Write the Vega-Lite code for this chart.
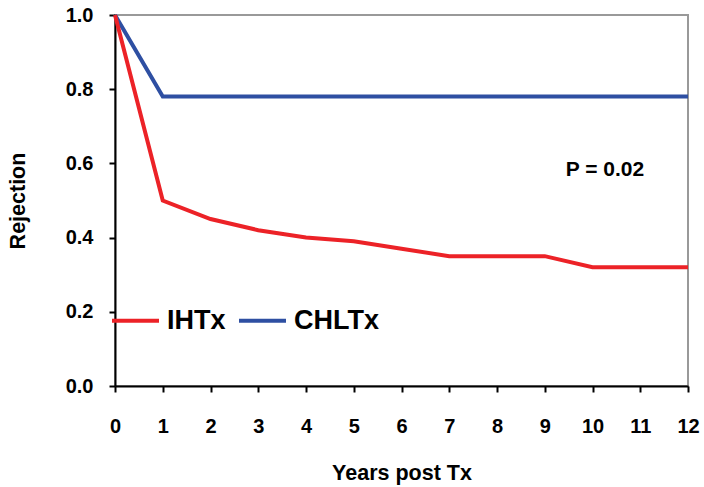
{
  "$schema": "https://vega.github.io/schema/vega-lite/v6.json",
  "width": 573,
  "height": 371,
  "autosize": "none",
  "padding": {"left": 115, "top": 15, "right": 16, "bottom": 101},
  "background": "white",
  "config": {
    "font": "Liberation Sans",
    "view": {"stroke": "#999999", "strokeWidth": 2},
    "axis": {"grid": false, "domainColor": "black", "domainWidth": 2, "tickColor": "black", "tickWidth": 2, "labelFont": "Liberation Sans", "labelFontWeight": "bold", "labelColor": "black", "titleFont": "Liberation Sans", "titleFontWeight": "bold", "titleColor": "black"}
  },
  "layer": [
    {
      "data": {
        "values": [
          {"year": 0, "series": "CHLTx", "rate": 1.0},
          {"year": 1, "series": "CHLTx", "rate": 0.78},
          {"year": 2, "series": "CHLTx", "rate": 0.78},
          {"year": 3, "series": "CHLTx", "rate": 0.78},
          {"year": 4, "series": "CHLTx", "rate": 0.78},
          {"year": 5, "series": "CHLTx", "rate": 0.78},
          {"year": 6, "series": "CHLTx", "rate": 0.78},
          {"year": 7, "series": "CHLTx", "rate": 0.78},
          {"year": 8, "series": "CHLTx", "rate": 0.78},
          {"year": 9, "series": "CHLTx", "rate": 0.78},
          {"year": 10, "series": "CHLTx", "rate": 0.78},
          {"year": 11, "series": "CHLTx", "rate": 0.78},
          {"year": 12, "series": "CHLTx", "rate": 0.78},
          {"year": 0, "series": "IHTx", "rate": 1.0},
          {"year": 1, "series": "IHTx", "rate": 0.50},
          {"year": 2, "series": "IHTx", "rate": 0.45},
          {"year": 3, "series": "IHTx", "rate": 0.42},
          {"year": 4, "series": "IHTx", "rate": 0.40},
          {"year": 5, "series": "IHTx", "rate": 0.39},
          {"year": 6, "series": "IHTx", "rate": 0.37},
          {"year": 7, "series": "IHTx", "rate": 0.35},
          {"year": 8, "series": "IHTx", "rate": 0.35},
          {"year": 9, "series": "IHTx", "rate": 0.35},
          {"year": 10, "series": "IHTx", "rate": 0.32},
          {"year": 11, "series": "IHTx", "rate": 0.32},
          {"year": 12, "series": "IHTx", "rate": 0.32}
        ]
      },
      "mark": {"type": "line", "strokeWidth": 4},
      "encoding": {
        "x": {
          "field": "year", "type": "quantitative",
          "scale": {"domain": [0, 12], "nice": false},
          "axis": {"values": [0,1,2,3,4,5,6,7,8,9,10,11,12], "title": "Years post Tx", "labelFontSize": 20, "titleFontSize": 21.5, "tickSize": 6, "labelPadding": 24, "titlePadding": 26, "labelFlush": false}
        },
        "y": {
          "field": "rate", "type": "quantitative",
          "scale": {"domain": [0, 1], "nice": false},
          "axis": {"values": [0, 0.2, 0.4, 0.6, 0.8, 1.0], "format": ".1f", "title": "Rejection", "labelFontSize": 20, "titleFontSize": 21.5, "tickSize": 6, "labelPadding": 16, "titlePadding": 36, "labelFlush": false}
        },
        "color": {
          "field": "series", "type": "nominal",
          "scale": {"domain": ["IHTx", "CHLTx"], "range": ["#ec2227", "#2e4fa2"]},
          "legend": {
            "orient": "none", "legendX": -5, "legendY": 280, "direction": "horizontal",
            "title": null, "symbolType": "stroke", "symbolSize": 2209, "symbolStrokeWidth": 4,
            "labelFontSize": 27, "labelFontWeight": "bold", "labelColor": "black", "labelFont": "Liberation Sans",
            "labelOffset": 6, "columnPadding": 5
          }
        },
        "order": {"field": "series", "sort": "ascending"}
      }
    },
    {
      "data": {"values": [{"year": 10.26, "rate": 0.582, "label": "P = 0.02"}]},
      "mark": {"type": "text", "fontSize": 21, "fontWeight": "bold", "font": "Liberation Sans", "color": "black", "align": "center", "baseline": "middle"},
      "encoding": {
        "x": {"field": "year", "type": "quantitative"},
        "y": {"field": "rate", "type": "quantitative"},
        "text": {"field": "label"}
      }
    }
  ]
}
